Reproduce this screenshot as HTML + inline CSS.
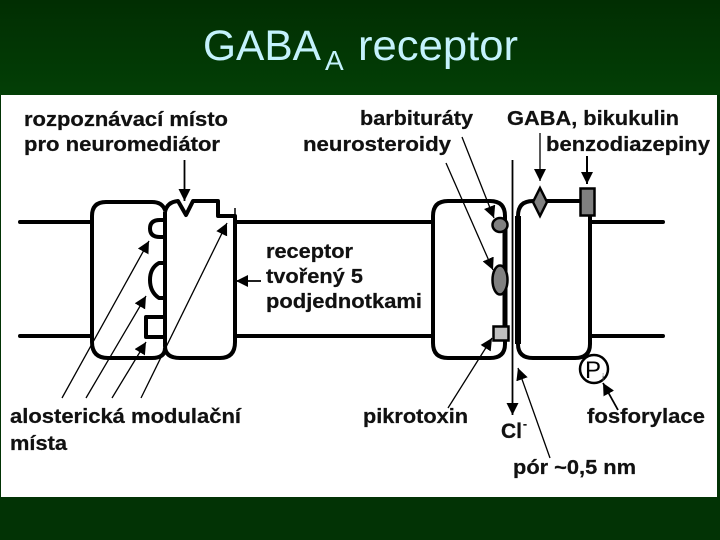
<!DOCTYPE html>
<html><head><meta charset="utf-8"><style>
html,body{margin:0;padding:0;background:#023305;width:720px;height:540px;overflow:hidden}
svg{display:block;filter:blur(0.3px)}
.t{font-family:"Liberation Sans",sans-serif;font-weight:bold;font-size:20.500px;fill:#111;stroke:#111;stroke-width:0.250px}
</style></head><body>
<svg width="720" height="540" viewBox="0 0 720 540" xmlns="http://www.w3.org/2000/svg">
<defs>
<linearGradient id="g" x1="0" y1="0" x2="0" y2="1"><stop offset="0" stop-color="#012e02"/><stop offset="1" stop-color="#033f06"/></linearGradient>
<marker id="a" markerUnits="userSpaceOnUse" markerWidth="14" markerHeight="14" refX="12" refY="6" orient="auto"><path d="M0 0L12 6L0 12z" fill="#000"/></marker>
</defs>
<rect width="720" height="95" fill="url(#g)"/>
<rect y="497" width="720" height="43" fill="#023305"/>
<rect x="1" y="95" width="716" height="402" fill="#fff"/>
<text x="203" y="60" font-family="Liberation Sans,sans-serif" font-size="43" fill="#c4f2fc" textLength="118" lengthAdjust="spacingAndGlyphs">GABA</text>
<text x="325" y="70" font-family="Liberation Sans,sans-serif" font-size="28" fill="#c4f2fc">A</text>
<text x="358" y="60" font-family="Liberation Sans,sans-serif" font-size="43" fill="#c4f2fc" textLength="160" lengthAdjust="spacingAndGlyphs">receptor</text>

<g fill="none" stroke="#000" stroke-width="4" stroke-linejoin="round">
<path d="M20 222H92M20 336H92M235 222H433M235 336H433M590 222H663M590 336H663" stroke-linecap="round"/>
<path d="M165 210Q162 202 152 202H106Q92 202 92 216V342Q92 358 108 358H152Q165 358 165 348"/>
<path d="M165 212Q167 202 178 201L186 215L193 201H218V216H235V342Q235 358 220 358H180Q165 358 165 346V212" />
<path d="M235 208V222"  stroke-width="1.500"/>
<path d="M165 220H160Q150 220 150 228.500Q150 237 160 237H165"/>
<path d="M165 263H159Q150 268 150 280Q150 292 159 298H165"/>
<path d="M165 317H146V337H165"/>
<path d="M505 340V344Q505 358 490 358H448Q433 358 433 343V216Q433 201 448 201H490Q505 201 505 216V340"/>
<path d="M580 201H533Q518 201 518 216V344Q518 358 533 358H575Q590 358 590 344V216"/>
</g>
<path d="M505 228V330" stroke="#000" stroke-width="5"/>
<path d="M518 216V344" stroke="#000" stroke-width="6"/>
<g stroke="#000" stroke-width="2.500">
<ellipse cx="500" cy="225" rx="7.500" ry="7" fill="#808080"/>
<ellipse cx="500" cy="280" rx="7.500" ry="14.500" fill="#808080"/>
<rect x="493.500" y="326.500" width="15" height="14" fill="#c0c0c0"/>
<path d="M540 188L547 202L540 216L533 202z" fill="#808080"/>
<rect x="580.500" y="188.500" width="14" height="27" fill="#808080"/>
<circle cx="594" cy="369" r="14" fill="#fff"/>
</g>

<g fill="none" stroke="#000" stroke-width="1.300">
<path d="M62 398L149 241" marker-end="url(#a)"/>
<path d="M86 398L146 296" marker-end="url(#a)"/>
<path d="M112 398L146 342" marker-end="url(#a)"/>
<path d="M141 398L227 223" marker-end="url(#a)"/>
<path d="M184.500 160V201" stroke-width="1.800" marker-end="url(#a)"/>
<path d="M261 281H236" stroke-width="1.800" marker-end="url(#a)"/>
<path d="M462 137L494 218" marker-end="url(#a)"/>
<path d="M446 163L493 270" marker-end="url(#a)"/>
<path d="M540 133V181" marker-end="url(#a)"/>
<path d="M587 156V184" stroke-width="2" marker-end="url(#a)"/>
<path d="M448 408L492 338" marker-end="url(#a)"/>
<path d="M550 458L518 368" marker-end="url(#a)"/>
<path d="M618 410L603 383" stroke-width="1.800" marker-end="url(#a)"/>
<path d="M512.500 160V415" stroke-width="1.800" marker-end="url(#a)"/>
</g>

<text class="t" x="24" y="126" textLength="204" lengthAdjust="spacingAndGlyphs">rozpoznávací místo</text>
<text class="t" x="24" y="151" textLength="196" lengthAdjust="spacingAndGlyphs">pro neuromediátor</text>
<text class="t" x="360" y="125" textLength="113" lengthAdjust="spacingAndGlyphs">barbituráty</text>
<text class="t" x="303" y="151" textLength="148" lengthAdjust="spacingAndGlyphs">neurosteroidy</text>
<text class="t" x="507" y="125" textLength="172" lengthAdjust="spacingAndGlyphs">GABA, bikukulin</text>
<text class="t" x="546" y="151" textLength="164" lengthAdjust="spacingAndGlyphs">benzodiazepiny</text>
<text class="t" x="266" y="258" textLength="87" lengthAdjust="spacingAndGlyphs">receptor</text>
<text class="t" x="266" y="283" textLength="97" lengthAdjust="spacingAndGlyphs">tvořený 5</text>
<text class="t" x="266" y="308" textLength="156" lengthAdjust="spacingAndGlyphs">podjednotkami</text>
<text class="t" x="10" y="423" textLength="231" lengthAdjust="spacingAndGlyphs">alosterická modulační</text>
<text class="t" x="10" y="450" textLength="57" lengthAdjust="spacingAndGlyphs">místa</text>
<text class="t" x="363" y="423" textLength="105" lengthAdjust="spacingAndGlyphs">pikrotoxin</text>
<text class="t" x="587" y="423" textLength="118" lengthAdjust="spacingAndGlyphs">fosforylace</text>
<text class="t" x="513" y="474" textLength="123" lengthAdjust="spacingAndGlyphs">pór ~0,5 nm</text>
<text class="t" x="501" y="438" style="font-size:21px">Cl</text>
<text class="t" x="523" y="428" style="font-size:12px">-</text>
<text x="585" y="378" font-family="Liberation Sans,sans-serif" font-size="24" fill="#000">P</text>
<text x="602" y="381" font-family="Liberation Sans,sans-serif" font-size="10" fill="#444">i</text>
</svg>
</body></html>
